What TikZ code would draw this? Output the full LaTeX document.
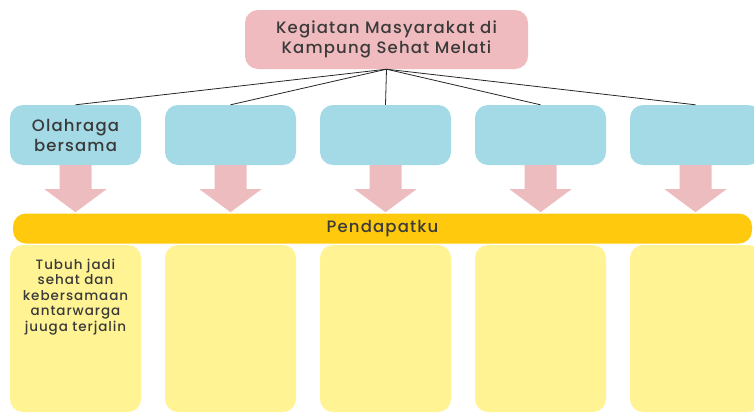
\documentclass[tikz,border=0pt]{standalone}
\usepackage{fontspec}
\setmainfont{Poppins}[UprightFont=* Medium]
\usetikzlibrary{calc}
\definecolor{toppink}{HTML}{EFBBBE}
\definecolor{arrowpink}{HTML}{EDBCBF}
\definecolor{boxblue}{HTML}{A3DAE5}
\definecolor{barorange}{HTML}{FFC90D}
\definecolor{lightyellow}{HTML}{FFF394}
\definecolor{txt}{HTML}{3A3A3A}
\tikzset{
  bigfont/.style={font=\fontsize{16.5}{20}\selectfont\addfontfeature{LetterSpace=7}},
  topbox/.style={fill=toppink, rounded corners=13pt, minimum width=283pt, minimum height=59pt, align=center, text=txt, bigfont, inner sep=0pt},
  bluebox/.style={fill=boxblue, rounded corners=13pt, minimum width=131pt, minimum height=60pt, align=center, text=txt, bigfont, inner sep=0pt},
  barbox/.style={fill=barorange, rounded corners=13pt, minimum width=739pt, minimum height=30pt, text=txt, font=\fontsize{16.5}{18}\selectfont\addfontfeature{LetterSpace=7}, inner sep=0pt},
  yelbox/.style={fill=lightyellow, rounded corners=13pt, minimum width=131pt, minimum height=167pt, inner sep=0pt},
  yeltext/.style={align=center, text=txt, font=\fontsize{13.5}{15.5}\selectfont\addfontfeature{LetterSpace=7}, inner sep=0pt},
  link/.style={draw=black!85, line width=0.8pt},
  blockarrow/.style={fill=arrowpink}
}
\begin{document}
\begin{tikzpicture}[x=1pt,y=-1pt]
\useasboundingbox (0,0) rectangle (754,413);
\node[topbox] (top) at (386.5,39.5) {Kegiatan Masyarakat di\\Kampung Sehat Melati};
\node[bluebox] (a1) at (75.5,135) {Olahraga\\bersama};
\foreach \i/\x in {2/230.5,3/385.5,4/540.5,5/695.5}
  \node[bluebox] (a\i) at (\x,135) {};
\foreach \i in {1,...,5}
  \draw[link] (top.south) -- (a\i.north);
\foreach \i in {1,...,5}
  \fill[blockarrow] ($(a\i.south)+(-16,0)$) -- ++(0,24) -- ++(-15,0) -- ($(a\i.south)+(0,47)$)
     -- ($(a\i.south)+(31,24)$) -- ++(-15,0) -- ($(a\i.south)+(16,0)$) -- cycle;
\node[barbox] (bar) at (382.5,228.5) {Pendapatku};
\foreach \i/\x in {1/75.5,2/230.5,3/385.5,4/540.5,5/695.5}
  \node[yelbox] (y\i) at (\x,328.5) {};
\node[yeltext, anchor=north] (t1) at ($(y1.north)+(0,14)$) {Tubuh jadi\\sehat dan\\kebersamaan\\antarwarga\\juuga terjalin};
\end{tikzpicture}
\end{document}
